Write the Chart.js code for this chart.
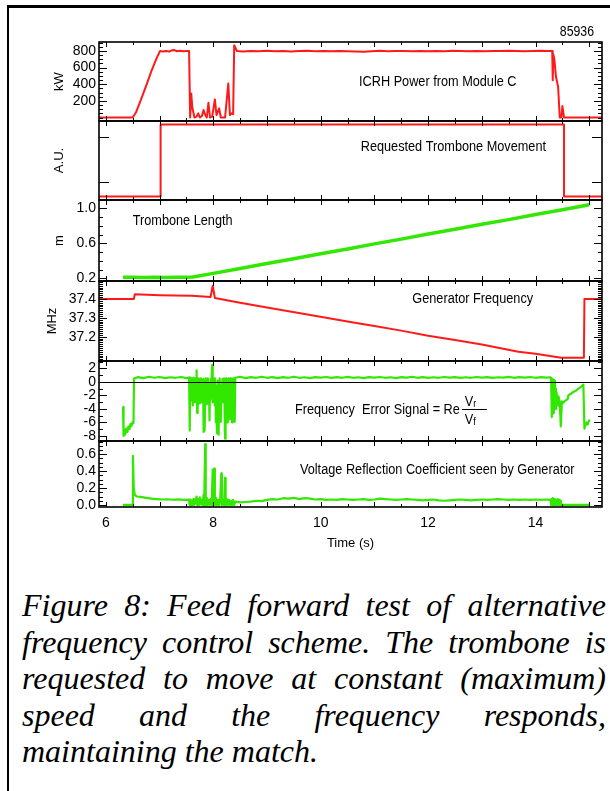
<!DOCTYPE html>
<html>
<head>
<meta charset="utf-8">
<title>Feed forward test of alternative frequency control scheme</title>
<script src="https://cdn.jsdelivr.net/npm/chart.js@4.4.1/dist/chart.umd.min.js"></script>
<style>
  html, body { margin: 0; padding: 0; background: #fff; }
  body { position: relative; width: 610px; height: 791px; overflow: hidden; }
  #frameTop { position: absolute; left: 7px; top: 5px; width: 603px; height: 2.5px; background: #000; }
  #frameLeft { position: absolute; left: 7px; top: 5px; width: 2px; height: 786px; background: #000; }
  #plot { position: absolute; left: 0; top: 0; }
  #caption { position: absolute; left: 22px; top: 587px; width: 584px; color: #000;
             font-family: 'Liberation Serif', 'Times New Roman', serif; font-style: italic;
             font-size: 32px; line-height: 36.6px; }
  #caption .j { text-align: justify; text-align-last: justify; }
</style>
</head>
<body>
<div id="frameTop"></div>
<div id="frameLeft"></div>
<canvas id="plot" width="610" height="560"></canvas>
<div id="caption">
  <div class="j">Figure 8: Feed forward test of alternative</div>
  <div class="j">frequency control scheme. The trombone is</div>
  <div class="j">requested to move at constant (maximum)</div>
  <div class="j">speed and the frequency responds,</div>
  <div>maintaining the match.</div>
</div>
<script>
// ---- data: [time (s), value] ----
const icrhPower = [
  [5.87,0],[6.50,0],[6.56,60],[6.64,190],[6.75,380],[6.85,560],[6.95,720],[7.01,800],[7.06,795],[7.12,801],
  [7.18,793],[7.22,805],[7.27,812],[7.32,798],[7.38,802],[7.44,797],[7.50,800],[7.55,800],
  [7.57,0],[7.59,290],[7.61,120],[7.65,0],[7.69,10],[7.72,50],[7.75,0],[7.79,20],[7.82,90],[7.85,30],[7.88,0],
  [7.91,177],[7.94,0],[7.98,10],[8.03,218],[8.06,30],[8.11,110],[8.14,0],[8.22,0],[8.28,410],[8.31,30],[8.34,50],
  [8.37,40],[8.39,870],[8.44,800],
  [8.55,795],[8.70,800],[8.85,797],[9.00,802],[9.15,796],[9.30,800],[9.45,794],[9.60,799],[9.75,803],[9.90,797],
  [10.05,800],[10.20,796],[10.35,801],[10.50,798],[10.65,793],[10.80,790],[10.95,797],[11.10,802],[11.25,797],
  [11.40,801],[11.55,799],[11.70,796],[11.85,800],[12.00,797],[12.15,801],[12.30,798],[12.45,802],[12.60,799],
  [12.75,797],[12.90,800],[13.05,798],[13.20,801],[13.35,799],[13.50,803],[13.65,800],[13.80,797],[13.95,801],
  [14.10,804],[14.20,800],[14.31,800],
  [14.32,449],[14.33,760],[14.35,700],[14.38,490],[14.42,370],[14.45,0],[14.48,0],[14.50,138],[14.53,0],[15.24,0]
];
const trombRequest = [[5.87,0],[7.02,0],[7.02,1],[14.53,1],[14.53,0],[15.24,0]];
const trombLength = [
  [6.32,0.212],[6.5,0.214],[6.7,0.210],[6.9,0.213],[7.1,0.211],[7.3,0.214],[7.5,0.212],[7.62,0.215],
  [8.0,0.257],[8.5,0.313],[9.0,0.370],[9.5,0.425],[10.0,0.482],[10.5,0.536],[11.0,0.594],[11.5,0.648],
  [12.0,0.706],[12.5,0.760],[13.0,0.818],[13.5,0.871],[14.0,0.929],[14.5,0.983],[15.0,1.040]
];
const genFreq = [
  [5.87,37.40],[6.52,37.40],[6.54,37.425],[7.0,37.42],[7.6,37.417],[7.95,37.41],[7.99,37.47],[8.03,37.405],
  [8.5,37.38],[9.0,37.355],[9.7,37.32],[10.5,37.28],[11.0,37.256],[11.5,37.232],[12.0,37.205],[12.5,37.182],
  [13.0,37.158],[13.68,37.12],[14.0,37.11],[14.48,37.088],[14.9,37.088],[14.91,37.40],[15.24,37.40]
];
const errSignal = [
  [6.32,-3.7],[6.33,-8.0],[6.345,-7.0],[6.36,-7.8],[6.38,-6.9],[6.40,-7.4],[6.42,-6.6],[6.44,-7.0],[6.46,-6.2],
  [6.48,-6.5],[6.50,-5.9],[6.515,-6.1],[6.525,0.5],
  [6.6,0.7],[6.7,0.55],[6.8,0.75],[6.9,0.6],[7.0,0.72],[7.1,0.55],[7.2,0.68],[7.3,0.6],[7.4,0.72],[7.5,0.55],[7.55,0.65],
  [7.56,0.6],[7.565,-7.2],[7.57,0.3],[7.58,-2.8],[7.59,0.5],[7.60,-1.5],[7.61,0.4],[7.62,-3.5],[7.63,0.6],[7.64,-2.0],
  [7.65,0.3],[7.66,-3.0],[7.67,0.5],[7.68,-1.2],[7.69,1.7],[7.70,-4.6],[7.71,0.4],[7.72,-2.5],[7.73,0.5],[7.74,-3.2],
  [7.75,0.2],[7.76,-1.8],[7.77,0.5],[7.78,-3.0],[7.79,-0.5],[7.80,-2.2],[7.81,0.4],[7.82,-7.4],[7.83,-1.0],[7.84,-7.2],
  [7.85,-2.0],[7.86,0.5],[7.87,-3.3],[7.88,0.3],[7.89,-1.5],[7.90,0.5],[7.91,-3.2],[7.92,-0.3],[7.93,-5.7],[7.94,-1.0],
  [7.95,0.4],[7.96,-2.5],[7.97,0.6],[7.98,2.5],[7.99,-3.0],[8.00,0.3],[8.01,-1.8],[8.02,0.5],[8.03,-3.5],[8.04,-0.5],
  [8.05,-6.0],[8.06,-1.0],[8.07,-7.6],[8.08,0.2],[8.09,-3.0],[8.10,-7.8],[8.11,-1.5],[8.12,0.5],[8.13,-3.8],[8.14,-5.9],
  [8.15,-0.5],[8.16,-3.0],[8.17,0.4],[8.18,-3.0],[8.19,-2.0],[8.20,0.5],[8.21,-3.5],[8.22,-8.4],[8.23,-5.0],[8.24,0.5],
  [8.25,-2.5],[8.26,-6.0],[8.27,0.4],[8.28,-3.0],[8.29,0.5],[8.30,-5.5],[8.31,-1.0],[8.32,0.5],[8.33,-4.0],[8.34,0.3],
  [8.35,-6.0],[8.36,-2.0],[8.37,0.5],[8.38,-5.8],[8.39,-1.5],[8.40,-5.9],[8.41,0.6],
  [8.5,0.75],[8.6,0.55],[8.7,0.7],[8.8,0.6],[8.9,0.75],[9.0,0.6],[9.1,0.7],[9.2,0.55],[9.3,0.7],[9.4,0.6],[9.5,0.75],
  [9.6,0.6],[9.7,0.68],[9.8,0.55],[9.9,0.7],[10.0,0.62],[10.1,0.72],[10.2,0.58],[10.3,0.7],[10.4,0.6],[10.5,0.74],
  [10.6,0.6],[10.7,0.68],[10.8,0.56],[10.9,0.7],[11.0,0.62],[11.1,0.72],[11.2,0.6],[11.3,0.68],[11.4,0.56],[11.5,0.7],
  [11.6,0.62],[11.7,0.75],[11.8,0.6],[11.9,0.7],[12.0,0.58],[12.1,0.68],[12.2,0.6],[12.3,0.72],[12.4,0.62],[12.5,0.7],
  [12.6,0.58],[12.7,0.68],[12.8,0.6],[12.9,0.72],[13.0,0.62],[13.1,0.7],[13.2,0.58],[13.3,0.68],[13.4,0.62],[13.5,0.74],
  [13.6,0.6],[13.7,0.7],[13.8,0.62],[13.9,0.72],[14.0,0.6],[14.1,0.7],[14.2,0.62],[14.28,0.68],
  [14.29,0.4],[14.30,-5.2],[14.305,0.5],[14.31,-4.8],[14.315,0.4],[14.32,-3.5],[14.33,0.3],[14.34,-4.6],[14.35,0.2],
  [14.36,-3.0],[14.37,-1.0],[14.38,-4.0],[14.39,-1.5],[14.40,-3.2],[14.41,-2.0],[14.42,-3.5],[14.43,-2.2],[14.45,-3.0],
  [14.47,-6.6],[14.49,-2.9],[14.51,-3.1],[14.55,-2.8],[14.60,-2.5],[14.61,-2.0],[14.65,-1.8],[14.70,-1.5],[14.75,-1.3],
  [14.80,-1.0],[14.85,-0.7],[14.89,-0.4],[14.91,-6.9],[14.93,-6.4],[14.95,-6.0],[14.97,-6.3],[14.99,-5.8],[15.01,-5.6]
];
const vrc = [
  [6.32,0],[6.50,0],[6.505,0.58],[6.52,0.2],[6.54,0.12],[6.58,0.1],[6.65,0.095],[6.75,0.085],[6.85,0.075],[6.95,0.07],
  [7.05,0.065],[7.15,0.068],[7.25,0.062],[7.35,0.066],[7.45,0.06],[7.55,0.063],
  [7.56,0.0],[7.57,0.06],[7.58,0.0],[7.60,0.05],[7.61,0.0],[7.63,0.07],[7.64,0.0],[7.66,0.06],[7.67,0.02],[7.69,0.1],
  [7.70,0.0],[7.72,0.07],[7.73,0.0],[7.75,0.09],[7.76,0.01],[7.78,0.06],[7.80,0.0],[7.82,0.12],[7.83,0.0],[7.85,0.72],
  [7.86,0.0],[7.88,0.08],[7.89,0.0],[7.91,0.06],[7.93,0.0],[7.95,0.07],[7.97,0.0],[7.99,0.42],[8.00,0.0],[8.02,0.43],
  [8.03,0.0],[8.05,0.08],[8.07,0.0],[8.09,0.06],[8.11,0.0],[8.13,0.07],[8.15,0.375],[8.16,0.0],[8.18,0.06],[8.20,0.0],
  [8.22,0.32],[8.23,0.0],[8.25,0.07],[8.27,0.0],[8.29,0.06],[8.31,0.0],[8.33,0.05],[8.35,0.0],[8.37,0.06],[8.39,0.0],
  [8.41,0.04],[8.5,0.03],[8.6,0.035],[8.7,0.04],[8.8,0.05],[8.9,0.045],[9.0,0.06],[9.1,0.07],[9.2,0.065],[9.3,0.08],
  [9.4,0.075],[9.5,0.085],[9.6,0.07],[9.7,0.08],[9.8,0.075],[9.9,0.065],[10.0,0.07],[10.1,0.06],[10.2,0.065],[10.3,0.06],
  [10.4,0.07],[10.5,0.065],[10.6,0.06],[10.7,0.065],[10.8,0.07],[10.9,0.06],[11.0,0.065],[11.1,0.075],[11.2,0.07],
  [11.3,0.065],[11.4,0.06],[11.5,0.065],[11.6,0.07],[11.7,0.065],[11.8,0.06],[11.9,0.055],[12.0,0.06],[12.1,0.065],
  [12.2,0.055],[12.3,0.05],[12.4,0.055],[12.5,0.06],[12.6,0.065],[12.7,0.06],[12.8,0.055],[12.9,0.06],[13.0,0.065],
  [13.1,0.06],[13.2,0.065],[13.3,0.07],[13.4,0.065],[13.5,0.06],[13.6,0.065],[13.7,0.06],[13.8,0.065],[13.9,0.06],
  [14.0,0.065],[14.1,0.06],[14.2,0.065],[14.28,0.06],
  [14.29,0.0],[14.30,0.07],[14.31,0.0],[14.32,0.08],[14.33,0.0],[14.35,0.07],[14.36,0.0],[14.38,0.06],[14.39,0.0],
  [14.41,0.07],[14.42,0.0],[14.44,0.06],[14.45,0.0],[14.47,0.05],[14.48,0.0],[14.50,0.0],[15.01,0.0]
];

// tick labels
const timeTicks = [6, 8, 10, 12, 14];
const powerTicks = [200, 400, 600, 800];
const requestTicks = [0.2, 0.83];
const lengthTicks = [0.2, 0.6, 1.0];
const freqTicks = [37.2, 37.3, 37.4];
const errTicks = [-8, -6, -4, -2, 0, 2];
const vrcTicks = [0.0, 0.2, 0.4, 0.6];

const RED = '#ff1a1a', GREEN = '#33e800';
const SANS = "'Liberation Sans', Arial, sans-serif";
const SQUEEZE = 0.82;   // the figure's lettering is condensed

// minor/major tick marks drawn inside each panel
const tickMarks = {
  yPow: { minor: 50, long: 8, short: 4 },
  yReq: { minor: 0, long: 10, short: 0 },
  yLen: { minor: 0.1, long: 8, short: 4 },
  yFreq: { minor: 0.01, long: 8, short: 4 },
  yErr: { minor: 1, long: 8, short: 4 },
  yVrc: { minor: 0.05, long: 8, short: 4 }
};
const panelIds = ['yPow', 'yReq', 'yLen', 'yFreq', 'yErr', 'yVrc'];

// text written inside the panels (t = time position, f = fraction of panel height)
const panelText = [
  { id: 'yPow', text: 'ICRH Power from Module C', t: 12.18, f: 0.50 },
  { id: 'yReq', text: 'Requested Trombone Movement', t: 12.47, f: 0.33 },
  { id: 'yLen', text: 'Trombone Length', t: 7.43, f: 0.26 },
  { id: 'yFreq', text: 'Generator Frequency', t: 12.83, f: 0.22 },
  { id: 'yVrc', text: 'Voltage Reflection Coefficient seen by Generator', t: 12.17, f: 0.44 }
];

function yAxis(min, max, weight, ticks, decimals, title, titlePad) {
  return {
    type: 'linear', position: 'left', stack: 'panels', stackWeight: weight,
    min: min, max: max,
    grid: { display: false, drawTicks: false },
    border: { display: false },
    afterBuildTicks: s => { s.ticks = ticks.map(v => ({ value: v })); },
    afterFit: s => { s.width = 91; },
    ticks: {
      autoSkip: false, padding: 3, color: '#000',
      font: { family: SANS, size: 14 },
      callback: v => decimals < 0 ? '' : Number(v).toFixed(decimals)
    },
    title: {
      display: !!title, text: title || '', color: '#000',
      font: { family: SANS, size: 13 },
      padding: { top: titlePad || 0, bottom: 0 }
    }
  };
}

function line(ctx, x1, y1, x2, y2) {
  ctx.beginPath(); ctx.moveTo(x1, y1); ctx.lineTo(x2, y2); ctx.stroke();
}

// condensed text: squeeze horizontally around the anchor point
function narrowText(ctx, text, x, y) {
  ctx.save();
  ctx.translate(x, y);
  ctx.scale(SQUEEZE, 1);
  ctx.fillText(text, 0, 0);
  ctx.restore();
}

const framePlugin = {
  id: 'frames',
  afterDatasetsDraw(chart) {
    const ctx = chart.ctx, xs = chart.scales.x;
    const L = chart.chartArea.left, R = chart.chartArea.right;
    ctx.save();
    ctx.strokeStyle = '#000';
    ctx.fillStyle = '#000';

    // zero line of the error signal
    const ye = chart.scales.yErr;
    const y0 = Math.round(ye.getPixelForValue(0)) + 0.5;
    ctx.lineWidth = 1;
    line(ctx, L, y0, R, y0);

    panelIds.forEach(id => {
      const s = chart.scales[id], cfg = tickMarks[id];
      const T = s.top, B = s.bottom;
      ctx.lineWidth = 1;
      // time ticks on top and bottom edges
      for (let i = Math.ceil(xs.min / 0.5); i * 0.5 <= xs.max; i++) {
        const v = i * 0.5;
        const px = Math.round(xs.getPixelForValue(v)) + 0.5;
        const len = Number.isInteger(v) ? 5 : 3;
        line(ctx, px, T, px, T + len);
        line(ctx, px, B, px, B - len);
      }
      // minor value ticks, both sides
      if (cfg.minor) {
        for (let i = Math.ceil(s.min / cfg.minor - 1e-9); i * cfg.minor <= s.max + 1e-9; i++) {
          const py = Math.round(s.getPixelForValue(i * cfg.minor)) + 0.5;
          line(ctx, L, py, L + cfg.short, py);
          line(ctx, R, py, R - cfg.short, py);
        }
      }
      // labelled ticks, longer
      s.ticks.forEach(t => {
        const py = Math.round(s.getPixelForValue(t.value)) + 0.5;
        line(ctx, L, py, L + cfg.long, py);
        line(ctx, R, py, R - cfg.long, py);
      });
      ctx.lineWidth = 1.6;
      ctx.strokeRect(L, T, R - L, B - T);
    });

    // panel captions
    ctx.font = '15.5px ' + SANS;
    ctx.textBaseline = 'middle';
    ctx.textAlign = 'center';
    panelText.forEach(p => {
      const s = chart.scales[p.id];
      narrowText(ctx, p.text, xs.getPixelForValue(p.t), s.top + p.f * (s.bottom - s.top));
    });

    // error signal caption with the fraction Vr / Vf
    const ex = xs.getPixelForValue(9.52);
    const ey = ye.top + 0.61 * (ye.bottom - ye.top);
    ctx.textAlign = 'left';
    const lead = 'Frequency  Error Signal = Re';
    narrowText(ctx, lead, ex, ey);
    const fx = ex + ctx.measureText(lead).width * SQUEEZE + 2;
    ctx.lineWidth = 1;
    line(ctx, fx, Math.round(ey - 1) + 0.5, fx + 25, Math.round(ey - 1) + 0.5);
    ctx.textBaseline = 'alphabetic';
    narrowText(ctx, 'V', fx + 3, ey - 4);
    narrowText(ctx, 'V', fx + 3, ey + 14);
    const vw = ctx.measureText('V').width * SQUEEZE;
    ctx.font = '11px ' + SANS;
    narrowText(ctx, 'r', fx + 3 + vw, ey - 3);
    narrowText(ctx, 'f', fx + 3 + vw, ey + 15);

    // shot number
    ctx.font = '15px ' + SANS;
    ctx.textAlign = 'right';
    ctx.textBaseline = 'middle';
    narrowText(ctx, '85936', R - 8, 32);
    ctx.restore();
  }
};

const pts = arr => arr.map(([x, y]) => ({ x: x, y: y }));
const ds = (arr, axis, color, width) => ({
  data: pts(arr), yAxisID: axis, xAxisID: 'x',
  borderColor: color, borderWidth: width, pointRadius: 0, tension: 0,
  borderJoinStyle: 'round', fill: false
});

new Chart(document.getElementById('plot'), {
  type: 'line',
  data: {
    datasets: [
      ds(icrhPower, 'yPow', RED, 2),
      ds(trombRequest, 'yReq', RED, 2),
      ds(trombLength, 'yLen', GREEN, 3.5),
      ds(genFreq, 'yFreq', RED, 2),
      ds(errSignal, 'yErr', GREEN, 2.2),
      ds(vrc, 'yVrc', GREEN, 2.2)
    ]
  },
  options: {
    responsive: false,
    animation: false,
    layout: { padding: { left: 8, right: 8, top: 42, bottom: 8 } },
    plugins: { legend: { display: false }, tooltip: { enabled: false } },
    scales: {
      x: {
        type: 'linear', min: 5.873, max: 15.237,
        grid: { display: false, drawTicks: false },
        border: { display: false },
        afterBuildTicks: s => { s.ticks = timeTicks.map(v => ({ value: v })); },
        afterFit: s => { s.height = 45; },
        ticks: { autoSkip: false, maxRotation: 0, padding: 8, color: '#000', font: { family: SANS, size: 14 } },
        title: { display: true, text: 'Time (s)', color: '#000', font: { family: SANS, size: 13 }, padding: { top: 0, bottom: 1 } }
      },
      // stacked panels: the last one defined ends up on top
      yVrc: yAxis(-0.024, 0.757, 66, vrcTicks, 1),
      yErr: yAxis(-8.74, 3.08, 80, errTicks, 0),
      yFreq: yAxis(37.071, 37.495, 80, freqTicks, 1, 'MHz', 37),
      yLen: yAxis(0.17, 1.095, 81, lengthTicks, 1, 'm', 44),
      yReq: yAxis(-0.05, 1.05, 79, requestTicks, -1, 'A.U.', 44),
      yPow: yAxis(-42, 908, 79, powerTicks, 0, 'kW', 44)
    }
  },
  plugins: [framePlugin]
});
</script>
</body>
</html>
